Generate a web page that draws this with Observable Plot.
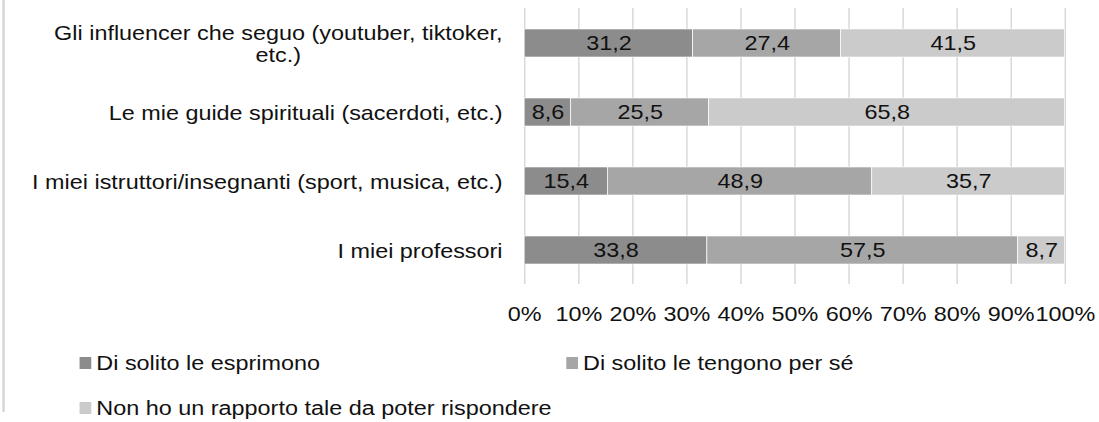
<!DOCTYPE html>
<html><head><meta charset="utf-8">
<script src="https://cdn.jsdelivr.net/npm/d3@7"></script>
<script src="https://cdn.jsdelivr.net/npm/@observablehq/plot@0.6"></script>
<style>
body{margin:0;background:#fff;}
#wrap{position:relative;width:940px;height:422px;transform:scaleX(1.17);transform-origin:0 0;font-family:"Liberation Sans",Arial,sans-serif;color:#111;}
#border{position:absolute;left:2px;top:0;width:1.5px;height:412px;background:#d4d4d4;z-index:5;}
#chart{position:absolute;left:0;top:0;z-index:1;}
#legend{position:absolute;left:68px;top:352px;width:860px;display:flex;flex-wrap:wrap;row-gap:23px;font-size:20px;line-height:22px;}
.item{width:416px;display:flex;align-items:center;white-space:nowrap;}
.sw{width:10.3px;height:12px;margin-right:4px;flex:none;}
</style></head><body><div id="wrap"><div id="chart"></div><div id="legend"></div><div id="border"></div></div>
<script>
const categories = [
  "Gli influencer che seguo (youtuber, tiktoker, etc.)",
  "Le mie guide spirituali (sacerdoti, etc.)",
  "I miei istruttori/insegnanti (sport, musica, etc.)",
  "I miei professori"
];
const series = ["Di solito le esprimono", "Di solito le tengono per sé", "Non ho un rapporto tale da poter rispondere"];
const esprimono = [31.2, 8.6, 15.4, 33.8];
const tengono = [27.4, 25.5, 48.9, 57.5];
const nonRapporto = [41.5, 65.8, 35.7, 8.7];
const colors = ["#8c8c8c", "#a6a6a6", "#cbcbcb"];
const xTicks = [0, 0.1, 0.2, 0.3, 0.4, 0.5, 0.6, 0.7, 0.8, 0.9, 1];

const seriesValues = [esprimono, tengono, nonRapporto];
const data = [];
categories.forEach((c, i) => {
  seriesValues.forEach((arr, j) => data.push({cat: c, serie: series[j], value: arr[i]}));
});
const fmt = v => v.toFixed(1).replace(".", ",");
const wrapLabel = d => d.replace("tiktoker, ", "tiktoker,\n");
const FONT = '"Liberation Sans", Arial, sans-serif';

const chart = Plot.plot({
  width: 940, height: 330,
  marginTop: 8, marginBottom: 46, marginLeft: 448, marginRight: 30,
  style: {fontFamily: FONT, fontSize: "20px", color: "#111", background: "transparent"},
  x: {domain: [0, 1], ticks: xTicks, tickFormat: d3.format(".0%")},
  y: {domain: categories, paddingInner: 0.6, paddingOuter: 0.3, label: null},
  color: {domain: series, range: colors},
  marks: [
    Plot.gridX(xTicks, {stroke: "#d9d9d9", strokeOpacity: 1, strokeWidth: 1.3}),
    Plot.barX(data, Plot.stackX({offset: "normalize", x: "value", y: "cat", fill: "serie", stroke: "#fff", strokeWidth: 0.6})),
    Plot.text(data, Plot.stackX({offset: "normalize", x: "value", y: "cat", text: d => fmt(d.value), fill: "#111", fontSize: 20})),
    Plot.axisX({ticks: xTicks, tickSize: 0, tickPadding: 22, fontSize: 20, tickFormat: d3.format(".0%"), label: null, fill: "#111"}),
    Plot.axisY({tickSize: 0, tickPadding: 19, fontSize: 20, lineHeight: 1.1, tickFormat: wrapLabel, label: null, fill: "#111"})
  ]
});
document.getElementById("chart").appendChild(chart);

// center multi-line y labels within their own right-aligned block
chart.querySelectorAll('g[aria-label="y-axis tick label"] text').forEach(t => {
  const w = t.getBBox().width;
  t.setAttribute("text-anchor", "middle");
  const tr = t.getAttribute("transform") || "";
  t.setAttribute("transform", tr + ` translate(${-w / 2},0)`);
});

const legend = document.getElementById("legend");
series.forEach((s, j) => {
  const it = document.createElement("div");
  it.className = "item";
  const sw = document.createElement("span");
  sw.className = "sw";
  sw.style.background = colors[j];
  const lb = document.createElement("span");
  lb.textContent = s;
  it.appendChild(sw); it.appendChild(lb);
  legend.appendChild(it);
});
</script></body></html>
